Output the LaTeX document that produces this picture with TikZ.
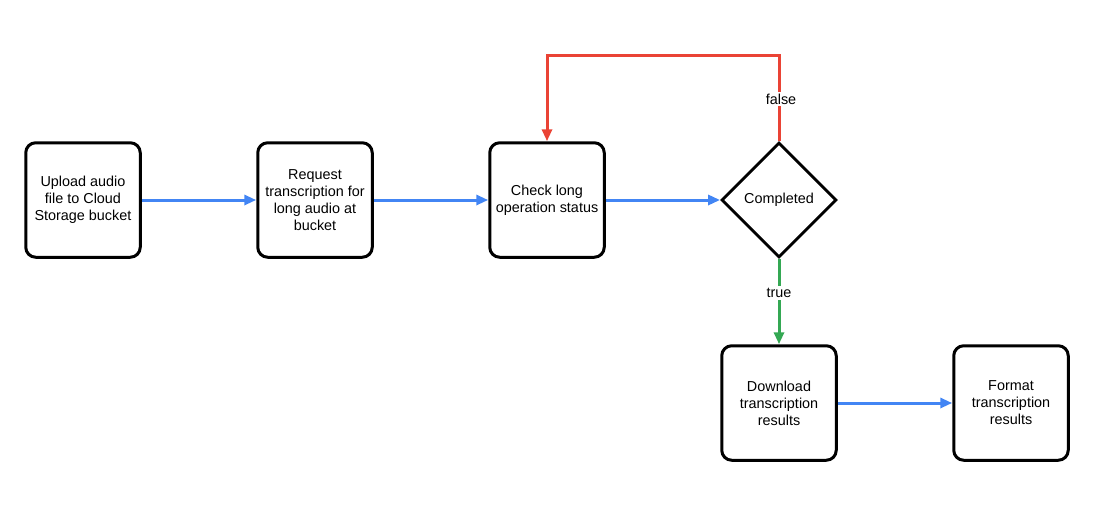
\documentclass[tikz,border=0pt]{standalone}
\usepackage{fontspec}
\setmainfont{Liberation Sans}
\usetikzlibrary{shapes.geometric,arrows.meta}
\definecolor{flowblue}{HTML}{4285F4}
\definecolor{flowred}{HTML}{EA4335}
\definecolor{flowgreen}{HTML}{34A853}
\begin{document}
\begin{tikzpicture}[x=1pt,y=-1pt,
  font=\fontsize{14.4}{17}\selectfont,
  stepbox/.style={draw=black,line width=3pt,rounded corners=10pt,fill=white,
    minimum width=114.5pt,minimum height=114.5pt,inner sep=0pt,align=center},
  decision/.style={draw=black,line width=2.8pt,diamond,aspect=1,fill=white,
    minimum width=115pt,minimum height=115pt,inner sep=0pt,align=center},
  flow/.style={line width=3pt,-{Triangle[length=12pt,width=10pt]}},
  edgelabel/.style={fill=white,inner sep=2pt,text=black}]
\useasboundingbox (0,0) rectangle (1093,517);

\node[stepbox] (upload) at (83,200) {Upload audio\\file to Cloud\\Storage bucket};
\node[stepbox] (request) at (315,200) {Request\\transcription for\\long audio at\\bucket};
\node[stepbox] (check) at (547,200) {Check long\\operation status};
\node[decision] (done) at (779,200) {Completed};
\node[stepbox] (download) at (779,403) {Download\\transcription\\results};
\node[stepbox] (format) at (1011,403) {Format\\transcription\\results};

\coordinate (loopright) at (779,55);

\draw[flow,flowblue] (upload) -- (request);
\draw[flow,flowblue] (request) -- (check);
\draw[flow,flowblue] (check) -- (done);
\draw[flow,flowblue] (download) -- (format);

\draw[flow,flowred] (done.north) -- (loopright) -| (check.north);
\node[edgelabel] (falselbl) at (781,99) {false};

\draw[flow,flowgreen] (done.south) -- (download.north);
\node[edgelabel] (truelbl) at (779,293) {true};
\end{tikzpicture}
\end{document}
